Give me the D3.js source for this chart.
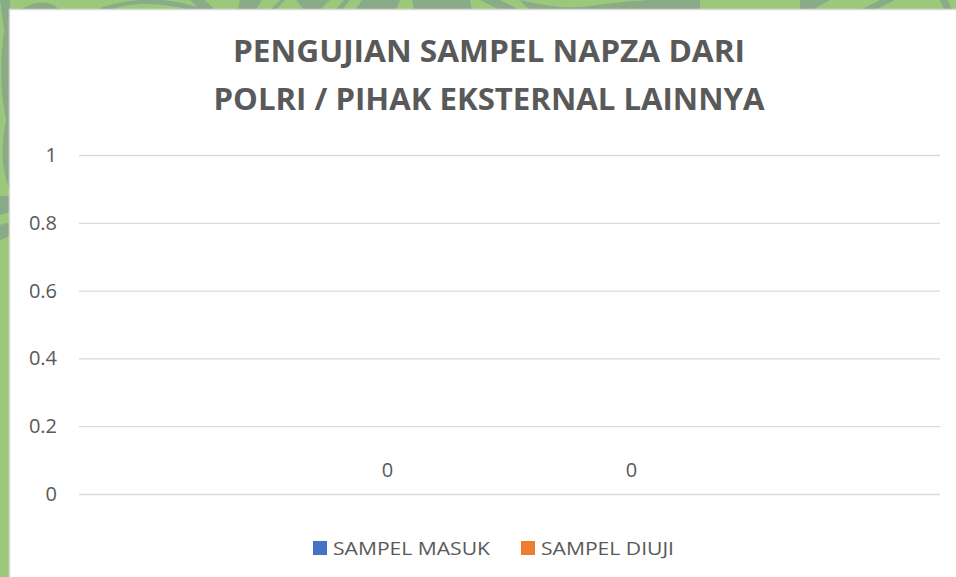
<!DOCTYPE html>
<meta charset="utf-8">
<script src="https://d3js.org/d3.v7.min.js"></script>
<style>
  body { margin: 0; overflow: hidden; }
  text { font-family: "Open Sans", "Liberation Sans", sans-serif; fill: #595959; }
</style>
<div id="chart"></div>
<script>
  // data
  var titleLines = ["PENGUJIAN SAMPEL NAPZA DARI", "POLRI / PIHAK EKSTERNAL LAINNYA"];
  var categories = [""];
  var seriesNames = ["SAMPEL MASUK", "SAMPEL DIUJI"];
  var seriesColors = ["#4472C4", "#ED7D31"];
  var sampelMasuk = [0];
  var sampelDiuji = [0];
  var yTicks = [0, 0.2, 0.4, 0.6, 0.8, 1];

  var W = 956, H = 577;
  var margin = {top: 155, right: 16, bottom: 83, left: 79};
  var width = W - margin.left - margin.right,
      height = H - margin.top - margin.bottom;

  var root = d3.select("#chart").append("svg")
    .attr("width", W).attr("height", H);

  // green slide background with leafy pattern
  root.append("rect").attr("width", W).attr("height", H).attr("fill", "#9dc87c");
  var deco = root.append("g").attr("fill", "#8aab88");
  deco.append("path").attr("d", "M0,0 L10,0 L10,190 C2,170 0,150 6,120 C0,90 0,60 4,30 Z");
  deco.append("path").attr("d", "M0,196 L10,196 L10,212 L0,215 Z");
  deco.append("path").attr("d", "M0,225 L10,222 L10,236 L0,240 Z");
  deco.append("path").attr("d", "M20,10 C35,0 50,0 60,10 Z");
  deco.append("path").attr("d", "M95,10 C130,-4 170,-4 205,10 L190,10 C160,2 130,2 110,10 Z");
  deco.append("path").attr("d", "M190,0 L205,0 L215,10 L200,10 Z");
  deco.append("path").attr("d", "M240,0 L262,0 L256,10 L238,10 Z");
  deco.append("path").attr("d", "M270,10 L280,0 L285,0 L276,10 Z");
  deco.append("path").attr("d", "M296,0 L330,0 L320,10 L304,10 Z");
  deco.append("path").attr("d", "M335,10 L344,0 L350,0 L342,10 Z");
  deco.append("path").attr("d", "M355,10 L362,0 L400,0 L396,10 Z");
  deco.append("path").attr("d", "M412,0 L470,0 L472,10 L414,10 Z");
  deco.append("path").attr("d", "M520,0 C540,4 560,10 590,6 C620,2 640,0 660,0 L672,0 L672,10 L530,10 C526,6 522,4 520,0 Z");
  deco.append("path").attr("d", "M480,0 L500,0 L520,10 L500,10 Z");
  deco.append("path").attr("d", "M645,0 L700,0 L700,10 L650,10 Z");
  deco.append("path").attr("d", "M660,0 L672,0 L690,10 L672,10 Z");
  deco.append("path").attr("d", "M800,0 L830,0 L812,10 L800,10 Z");
  deco.append("path").attr("d", "M860,10 L880,0 L895,0 L875,10 Z");
  deco.append("path").attr("d", "M940,0 L948,0 L952,10 L944,10 Z");

  // white chart area
  root.append("rect")
    .attr("x", 9.5).attr("y", 9.5)
    .attr("width", W).attr("height", H)
    .attr("fill", "#ffffff")
    .attr("stroke", "#d9d9d9").attr("stroke-width", 1.5);

  // title
  root.append("text")
    .attr("x", 489).attr("y", 62)
    .attr("text-anchor", "middle")
    .style("font-size", "30px").style("font-weight", "bold")
    .attr("textLength", 512).attr("lengthAdjust", "spacingAndGlyphs")
    .text(titleLines[0]);
  root.append("text")
    .attr("x", 489).attr("y", 110)
    .attr("text-anchor", "middle")
    .style("font-size", "30px").style("font-weight", "bold")
    .attr("textLength", 551).attr("lengthAdjust", "spacingAndGlyphs")
    .text(titleLines[1]);

  var svg = root.append("g")
    .attr("transform", "translate(" + margin.left + "," + margin.top + ")");

  var y = d3.scaleLinear().domain([0, 1]).range([height, 0]);

  var x0 = d3.scaleBand().domain(categories).range([0, width]).padding(0);
  var x1 = d3.scaleBand().domain(seriesNames)
    .range([0, x0.bandwidth()])
    .paddingInner(0.1).paddingOuter(0.815);

  // gridlines + y labels
  var yAxis = svg.append("g")
    .call(d3.axisLeft(y).tickValues(yTicks).tickSize(-width).tickPadding(22)
      .tickFormat(function(d) { return d; }));
  yAxis.select(".domain").remove();
  yAxis.selectAll("line").attr("stroke", "#d9d9d9").attr("stroke-width", 1.3);
  yAxis.selectAll("text").style("font-size", "20px").style("fill", "#595959")
    .style("font-family", "'Open Sans', sans-serif");

  var rows = categories.map(function(c, i) {
    return [{s: seriesNames[0], v: sampelMasuk[i], c: c}, {s: seriesNames[1], v: sampelDiuji[i], c: c}];
  });

  var groups = svg.selectAll(".cat").data(rows).enter().append("g")
    .attr("transform", function(d, i) { return "translate(" + x0(categories[i]) + ",0)"; });

  groups.selectAll("rect").data(function(d) { return d; }).enter().append("rect")
    .attr("x", function(d) { return x1(d.s); })
    .attr("width", x1.bandwidth())
    .attr("y", function(d) { return y(d.v); })
    .attr("height", function(d) { return height - y(d.v); })
    .attr("fill", function(d, i) { return seriesColors[i]; });

  groups.selectAll(".lbl").data(function(d) { return d; }).enter().append("text")
    .attr("x", function(d) { return x1(d.s) + x1.bandwidth() / 2; })
    .attr("y", function(d) { return y(d.v) - 17; })
    .attr("text-anchor", "middle")
    .style("font-size", "20px")
    .text(function(d) { return d.v; });

  // legend
  var legendX = [313, 521];
  var legendLen = [157, 133];
  var legend = root.append("g");
  seriesNames.forEach(function(s, i) {
    legend.append("rect").attr("x", legendX[i]).attr("y", 541)
      .attr("width", 14).attr("height", 14).attr("fill", seriesColors[i]);
    legend.append("text").attr("x", legendX[i] + 20).attr("y", 555)
      .style("font-size", "19px")
      .attr("textLength", legendLen[i]).attr("lengthAdjust", "spacingAndGlyphs")
      .text(s);
  });
</script>
